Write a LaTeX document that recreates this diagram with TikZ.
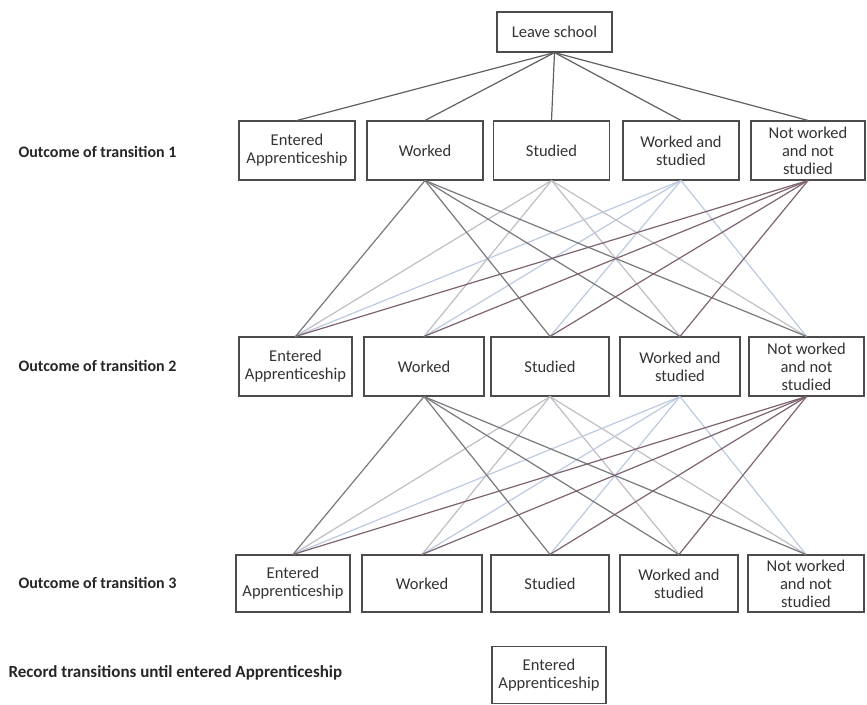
\documentclass[tikz,border=0pt]{standalone}
\usepackage{fontspec}
\setmainfont{Carlito}
\definecolor{cw}{RGB}{120,120,125}
\definecolor{cs}{RGB}{190,190,196}
\definecolor{cws}{RGB}{188,202,224}
\definecolor{cn}{RGB}{125,98,112}
\definecolor{cl}{RGB}{95,95,100}
\tikzset{
  box/.style={draw=black!70, line width=1.1pt, fill=white, minimum width=116pt, minimum height=59pt,
    align=center, inner sep=1pt, font=\fontsize{16.5}{18}\selectfont, text=black!80},
  lbl/.style={anchor=west, font=\bfseries\fontsize{16}{18}\selectfont, text=black!85},
  link/.style={line width=1.2pt}
}
\begin{document}
\begin{tikzpicture}[x=1pt,y=-1pt]
\useasboundingbox (0,0) rectangle (867,704);
\node[box, minimum width=115pt, minimum height=40pt] (ls) at (554.5,32) {Leave school};
% row 1
\node[box] (aEA) at (297,150.5) {Entered\\Apprenticeship};
\node[box] (aW) at (425,150.5) {Worked};
\node[box] (aS) at (551.5,150.5) {Studied};
\node[box] (aWS) at (681,150.5) {Worked and\\studied};
\node[box, minimum width=114pt] (aN) at (808,150.5) {Not worked\\and not\\studied};
% row 2
\node[box, minimum width=113pt] (bEA) at (295.5,366.5) {Entered\\Apprenticeship};
\node[box, minimum width=120pt] (bW) at (424,366.5) {Worked};
\node[box, minimum width=118pt] (bS) at (550,366.5) {Studied};
\node[box, minimum width=120pt] (bWS) at (680,366.5) {Worked and\\studied};
\node[box, minimum width=115pt] (bN) at (806.5,366.5) {Not worked\\and not\\studied};
% row 3
\node[box, minimum width=114pt, minimum height=57pt] (cEA) at (293,583.5) {Entered\\Apprenticeship};
\node[box, minimum width=120pt, minimum height=57pt] (cW) at (422,583.5) {Worked};
\node[box, minimum width=118pt, minimum height=57pt] (cS) at (550,583.5) {Studied};
\node[box, minimum width=118pt, minimum height=57pt] (cWS) at (679,583.5) {Worked and\\studied};
\node[box, minimum width=116pt, minimum height=57pt] (cN) at (806,583.5) {Not worked\\and not\\studied};
% final
\node[box, minimum width=114pt, minimum height=57pt] (d) at (549,675) {Entered\\Apprenticeship};
% labels
\node[lbl] (l1) at (15,152) {Outcome of transition 1};
\node[lbl] (l2) at (15,366) {Outcome of transition 2};
\node[lbl] (l3) at (15,583) {Outcome of transition 3};
\node[lbl, font=\bfseries\fontsize{17}{19}\selectfont] (l4) at (5,673) {Record transitions until entered Apprenticeship};
% links from leave school
\foreach \t in {EA,W,S,WS,N}
  \draw[link, cl] (ls.south) -- (a\t.north);
% row1 -> row2 and row2 -> row3 (no self transitions)
\foreach \s/\c in {S/cs, WS/cws, W/cw, N/cn}
  \foreach \t in {EA,W,S,WS,N} {
    \ifx\s\t\else
      \draw[link, \c] (a\s.south) -- (b\t.north);
      \draw[link, \c] (b\s.south) -- (c\t.north);
    \fi
  }
\end{tikzpicture}
\end{document}
